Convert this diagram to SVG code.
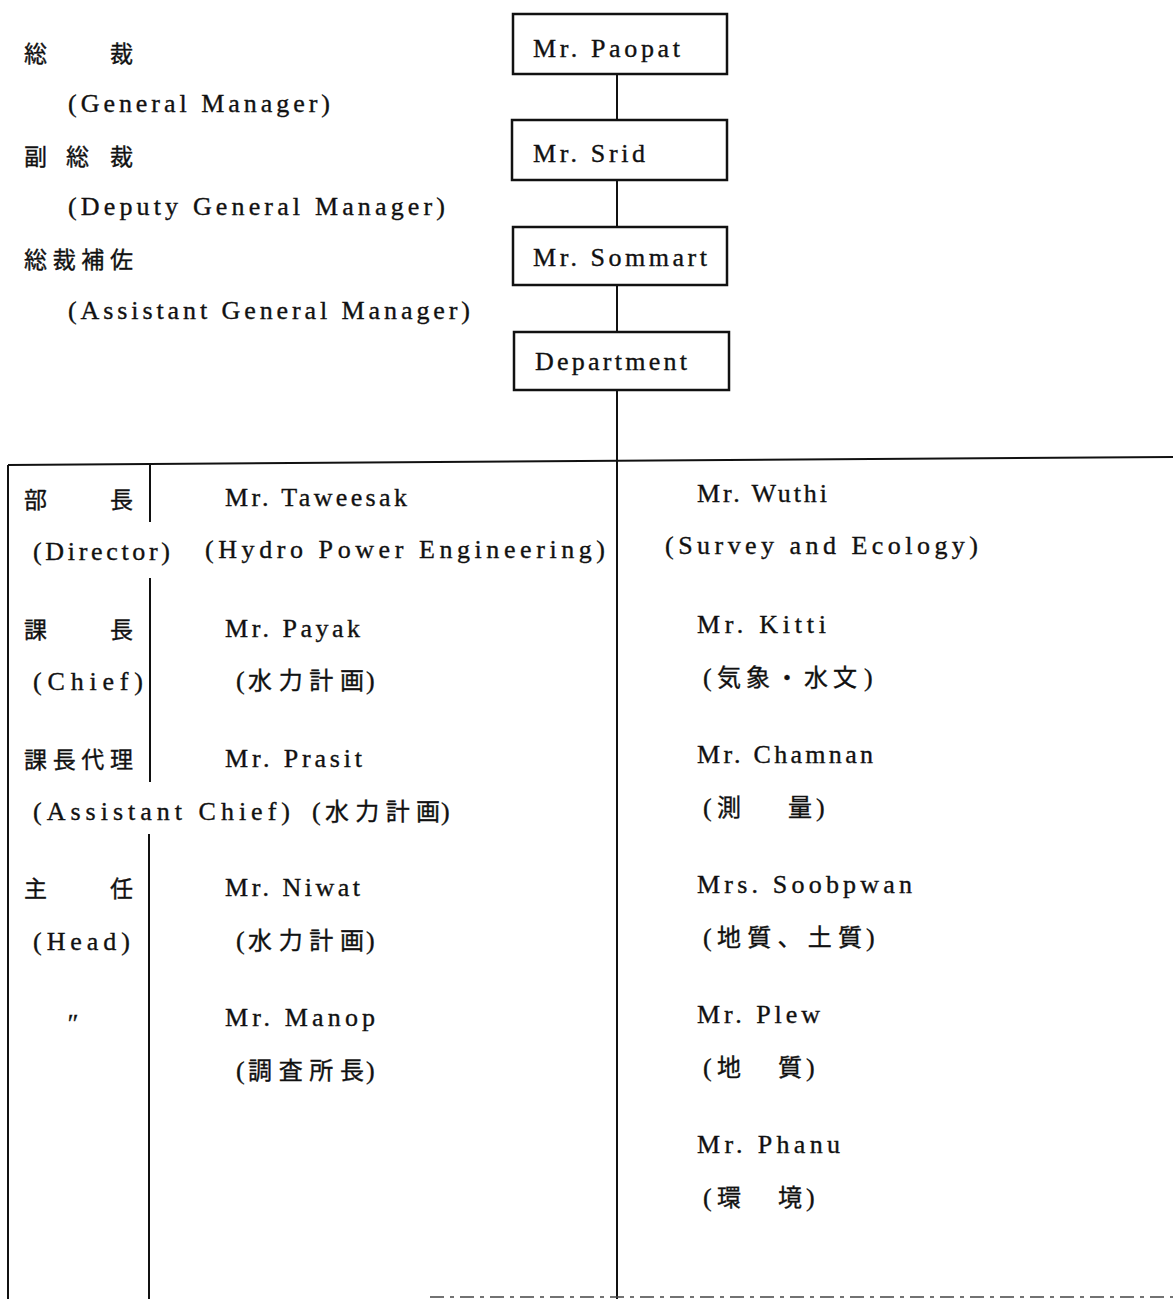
<svg xmlns="http://www.w3.org/2000/svg" width="1173" height="1299" viewBox="0 0 1173 1299">
<style>
text{font-family:"Liberation Serif","Noto Sans CJK JP",serif;font-size:26px;fill:#111;stroke:#111;stroke-width:0.35;}
.j{font-family:"Noto Sans CJK JP","Liberation Serif",serif;font-size:23px;}
.k{font-family:"Noto Sans CJK JP","Liberation Serif",serif;font-size:24px;}
.box{fill:#fff;stroke:#111;stroke-width:2.5;}
.ln{stroke:#111;stroke-width:2;fill:none;}
</style>
<rect width="1173" height="1299" fill="#fff"/>
<g id="connectors">
<line class="ln" x1="617" y1="74" x2="617" y2="120"/>
<line class="ln" x1="617" y1="180" x2="617" y2="227"/>
<line class="ln" x1="617" y1="285" x2="617" y2="332"/>
<line class="ln" x1="617" y1="390" x2="617" y2="1299"/>
</g>
<g id="table">
<line class="ln" x1="8" y1="465" x2="1173" y2="457"/>
<line class="ln" x1="8" y1="465" x2="8" y2="1299"/>
<line class="ln" x1="150" y1="465" x2="150" y2="522"/>
<line class="ln" x1="150" y1="578" x2="150" y2="782"/>
<line class="ln" x1="149" y1="834" x2="149" y2="1299"/>
<line x1="430" y1="1297" x2="1173" y2="1297" stroke="#444" stroke-width="1.5" stroke-dasharray="14 6 4 6"/>
</g>
<g id="node-paopat"><rect class="box" x="513" y="14" width="214" height="60"/><text x="533" y="57" textLength="147" lengthAdjust="spacing">Mr. Paopat</text></g>
<g id="node-srid"><rect class="box" x="512" y="120" width="215" height="60"/><text x="533" y="162" textLength="112" lengthAdjust="spacing">Mr. Srid</text></g>
<g id="node-sommart"><rect class="box" x="513" y="227" width="214" height="58"/><text x="533" y="266" textLength="174" lengthAdjust="spacing">Mr. Sommart</text></g>
<g id="node-department"><rect class="box" x="514" y="332" width="215" height="58"/><text x="535" y="370" textLength="152" lengthAdjust="spacing">Department</text></g>
<g id="titles">
<text class="j" x="24" y="62">総</text><text class="j" x="110" y="62">裁</text>
<text x="68" y="112" textLength="262" lengthAdjust="spacing">(General Manager)</text>
<text class="j" x="24" y="165">副</text><text class="j" x="66" y="165">総</text><text class="j" x="110" y="165">裁</text>
<text x="68" y="215" textLength="377" lengthAdjust="spacing">(Deputy General Manager)</text>
<text class="j" x="24" y="268" textLength="109" lengthAdjust="spacing">総裁補佐</text>
<text x="68" y="319" textLength="402" lengthAdjust="spacing">(Assistant General Manager)</text>
</g>
<g id="ranks">
<text class="j" x="24" y="508">部</text><text class="j" x="110" y="508">長</text>
<text x="33" y="560" textLength="137" lengthAdjust="spacing">(Director)</text>
<text class="j" x="24" y="638">課</text><text class="j" x="110" y="638">長</text>
<text x="33" y="690" textLength="110" lengthAdjust="spacing">(Chief)</text>
<text class="j" x="24" y="768" textLength="109" lengthAdjust="spacing">課長代理</text>
<text x="33" y="820" textLength="257" lengthAdjust="spacing">(Assistant Chief)</text>
<text class="j" x="24" y="897">主</text><text class="j" x="110" y="897">任</text>
<text x="33" y="950" textLength="97" lengthAdjust="spacing">(Head)</text>
<text x="66" y="1032" font-style="italic" font-size="28">″</text>
</g>
<g id="node-hydro">
<text x="225" y="506" textLength="182" lengthAdjust="spacing">Mr. Taweesak</text>
<text x="205" y="558" textLength="400" lengthAdjust="spacing">(Hydro Power Engineering)</text>
<text x="225" y="637" textLength="135" lengthAdjust="spacing">Mr. Payak</text>
<text x="236" y="689">(</text><text class="k" x="248" y="689" textLength="116" lengthAdjust="spacing">水力計画</text><text x="366" y="689">)</text>
<text x="225" y="767" textLength="137" lengthAdjust="spacing">Mr. Prasit</text>
<text x="312" y="820">(</text><text class="k" x="325" y="820" textLength="115" lengthAdjust="spacing">水力計画</text><text x="441" y="820">)</text>
<text x="225" y="896" textLength="135" lengthAdjust="spacing">Mr. Niwat</text>
<text x="236" y="949">(</text><text class="k" x="248" y="949" textLength="116" lengthAdjust="spacing">水力計画</text><text x="366" y="949">)</text>
<text x="225" y="1026" textLength="150" lengthAdjust="spacing">Mr. Manop</text>
<text x="236" y="1079">(</text><text class="k" x="248" y="1079" textLength="116" lengthAdjust="spacing">調査所長</text><text x="366" y="1079">)</text>
</g>
<g id="node-survey">
<text x="697" y="502" textLength="130" lengthAdjust="spacing">Mr. Wuthi</text>
<text x="665" y="554" textLength="313" lengthAdjust="spacing">(Survey and Ecology)</text>
<text x="697" y="633" textLength="129" lengthAdjust="spacing">Mr. Kitti</text>
<text x="703" y="686">(</text><text class="k" x="717" y="686" textLength="140" lengthAdjust="spacing">気象・水文</text><text x="864" y="686">)</text>
<text x="697" y="763" textLength="176" lengthAdjust="spacing">Mr. Chamnan</text>
<text x="703" y="816">(</text><text class="k" x="717" y="816">測</text><text class="k" x="788" y="816">量</text><text x="816" y="816">)</text>
<text x="697" y="893" textLength="215" lengthAdjust="spacing">Mrs. Soobpwan</text>
<text x="703" y="946">(</text><text class="k" x="717" y="946" textLength="145" lengthAdjust="spacing">地質、土質</text><text x="866" y="946">)</text>
<text x="697" y="1023" textLength="123" lengthAdjust="spacing">Mr. Plew</text>
<text x="703" y="1076">(</text><text class="k" x="717" y="1076">地</text><text class="k" x="778" y="1076">質</text><text x="806" y="1076">)</text>
<text x="697" y="1153" textLength="143" lengthAdjust="spacing">Mr. Phanu</text>
<text x="703" y="1206">(</text><text class="k" x="717" y="1206">環</text><text class="k" x="778" y="1206">境</text><text x="806" y="1206">)</text>
</g>
</svg>
